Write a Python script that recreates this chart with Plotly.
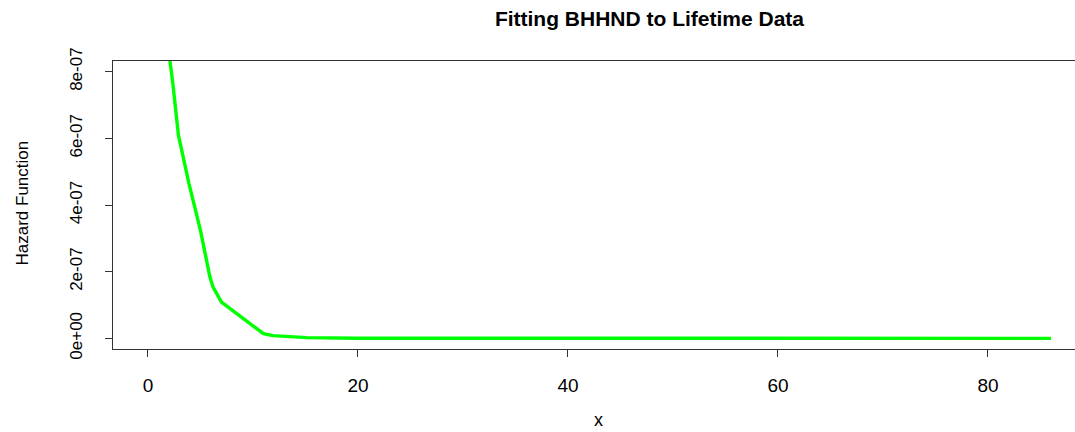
import plotly.graph_objects as go

# Fitted hazard function of the BHHND model evaluated at the observed lifetimes
lifetime_x = [1.0, 2.35, 2.9, 3.2, 3.9, 5.0, 5.9, 6.2, 7.0, 11.0, 11.9, 15.1,
              17.0, 20.0, 25.0, 30.0, 40.0, 50.0, 60.0, 70.0, 80.0, 86.0]
hazard_y = [1.10e-6, 7.70e-7, 6.10e-7, 5.65e-7, 4.65e-7, 3.24e-7, 1.84e-7,
            1.54e-7, 1.09e-7, 1.4e-8, 8.0e-9, 2.0e-9, 5.0e-10, 2.0e-10,
            1.0e-10, 5.0e-11, 1.0e-11, 5.0e-12, 2.0e-12, 1.0e-12, 5.0e-13, 3.0e-13]

x_ticks = [0, 20, 40, 60, 80]
y_ticks = [0, 2e-7, 4e-7, 6e-7, 8e-7]
y_tick_text = ["0e+00", "2e-07", "4e-07", "6e-07", "8e-07"]

FONT = "Liberation Sans, Arial, sans-serif"
AXIS_COLOR = "#333333"

fig = go.Figure()
fig.add_trace(go.Scatter(
    x=lifetime_x, y=hazard_y, mode="lines",
    line=dict(color="#00FF00", width=3.4),
    showlegend=False, hoverinfo="skip",
))

W, H = 1075, 432
L, R, T, B = 113, 0, 61, 83

fig.update_layout(
    width=W, height=H,
    margin=dict(l=L, r=R, t=T, b=B, pad=0),
    paper_bgcolor="white", plot_bgcolor="white",
    font=dict(family=FONT, color="black"),
    title=dict(
        text="<b>Fitting BHHND to Lifetime Data</b>",
        font=dict(family=FONT, size=21, color="black"),
        x=599.5 / W, xanchor="center", xref="paper",
        y=1 - 19 / H, yanchor="middle", yref="container",
    ),
    xaxis=dict(
        range=[-3.33, 88.29], tickmode="array", tickvals=x_ticks,
        showgrid=False, zeroline=False,
        showline=True, mirror=True, linecolor=AXIS_COLOR, linewidth=1,
        ticks="outside", ticklen=7, tickcolor=AXIS_COLOR, tickwidth=1,
        tickfont=dict(family=FONT, size=19, color="black"),
        ticklabelstandoff=12,
    ),
    yaxis=dict(
        range=[-3.2e-8, 8.32e-7], tickmode="array", tickvals=y_ticks,
        ticktext=y_tick_text, tickangle=-90,
        showgrid=False, zeroline=False,
        showline=True, mirror=False, linecolor=AXIS_COLOR, linewidth=1,
        ticks="outside", ticklen=7, tickcolor=AXIS_COLOR, tickwidth=1,
        tickfont=dict(family=FONT, size=17, color="black"),
        ticklabelstandoff=16,
    ),
    annotations=[
        dict(text="Hazard Function", textangle=-90, showarrow=False,
             xref="paper", yref="paper",
             x=(21.5 - L) / (W - L - R), y=(H - B - 203) / (H - T - B),
             xanchor="center", yanchor="middle",
             font=dict(family=FONT, size=17, color="black")),
        dict(text="x", showarrow=False,
             xref="paper", yref="paper",
             x=(598 - L) / (W - L - R), y=(H - B - 420) / (H - T - B),
             xanchor="center", yanchor="middle",
             font=dict(family=FONT, size=18, color="black")),
    ],
)

fig.write_html("out.html")
